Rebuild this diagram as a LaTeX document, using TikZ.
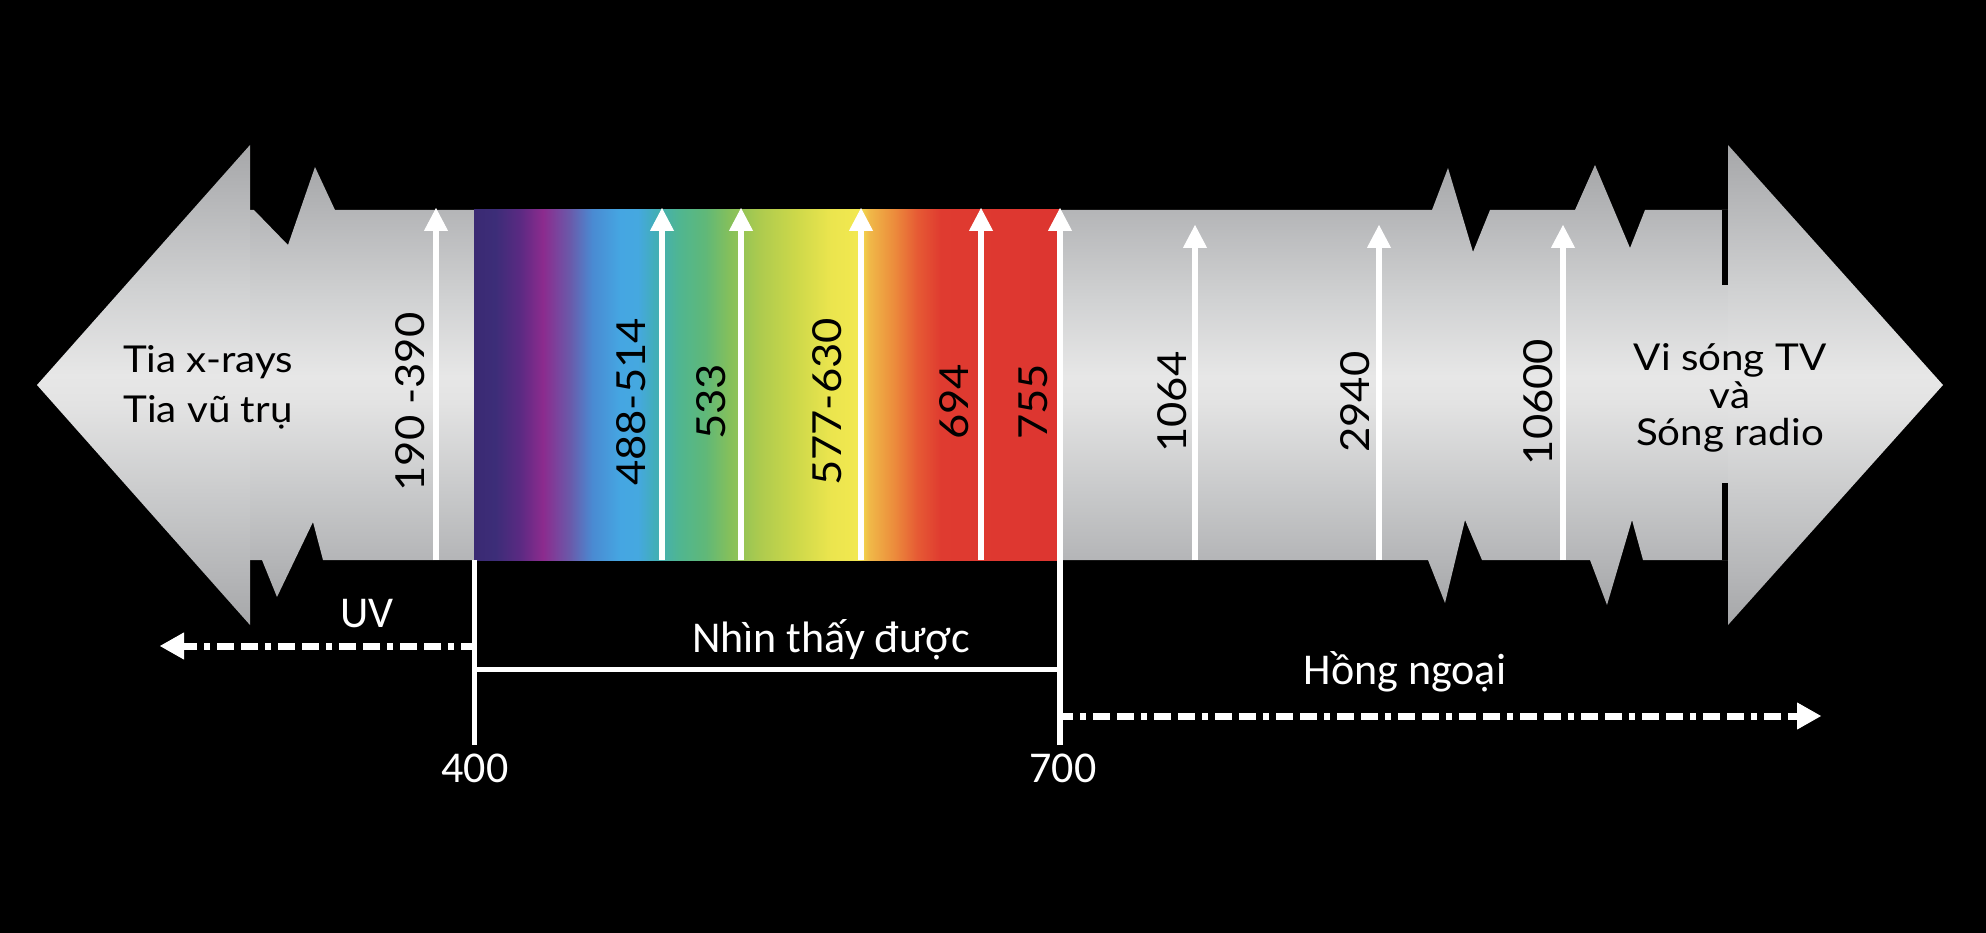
\documentclass[tikz,border=0pt]{standalone}
\usepackage{fontspec}
\usetikzlibrary{arrows.meta}
\newfontfamily\latofont{Lato}[FakeStretch=1.09]
\newfontfamily\carlfont{Carlito}
\definecolor{m0}{HTML}{A6A7A9}
\definecolor{m1}{HTML}{B4B5B7}
\definecolor{m2}{HTML}{CBCCCD}
\definecolor{m3}{HTML}{E3E3E3}
\definecolor{m4}{HTML}{E7E7E7}
\definecolor{m5}{HTML}{D0D1D2}
\pgfdeclareverticalshading{metal}{100bp}{color(0bp)=(m0); color(25bp)=(m0); color(30bp)=(m1); color(39bp)=(m2); color(48bp)=(m3); color(51bp)=(m4); color(60bp)=(m5); color(70bp)=(m1); color(75bp)=(m0); color(100bp)=(m0)}
\definecolor{s0}{HTML}{3B2A73}
\definecolor{s1}{HTML}{3C2D78}
\definecolor{s2}{HTML}{5A2A82}
\definecolor{s3}{HTML}{8C2B8E}
\definecolor{s4}{HTML}{6A5AAA}
\definecolor{s5}{HTML}{4A8AD2}
\definecolor{s6}{HTML}{45A6E2}
\definecolor{s7}{HTML}{45A8E0}
\definecolor{s8}{HTML}{42AEB8}
\definecolor{s9}{HTML}{50B690}
\definecolor{s10}{HTML}{60B878}
\definecolor{s11}{HTML}{86C05A}
\definecolor{s12}{HTML}{AECB4E}
\definecolor{s13}{HTML}{CDD84A}
\definecolor{s14}{HTML}{EBE54E}
\definecolor{s15}{HTML}{F2E850}
\definecolor{s16}{HTML}{F0B848}
\definecolor{s17}{HTML}{EC8C3C}
\definecolor{s18}{HTML}{E65A34}
\definecolor{s19}{HTML}{DF3B30}
\definecolor{s20}{HTML}{DD3530}
\pgfdeclarehorizontalshading{spectrum}{100bp}{color(0bp)=(s0); color(25bp)=(s0); color(26.8bp)=(s1); color(28.9bp)=(s2); color(30.9bp)=(s3); color(33.2bp)=(s4); color(35.1bp)=(s5); color(37.5bp)=(s6); color(39bp)=(s7); color(40.5bp)=(s8); color(42.6bp)=(s9); color(44.8bp)=(s10); color(46.9bp)=(s11); color(49.5bp)=(s12); color(52.5bp)=(s13); color(55.5bp)=(s14); color(57.8bp)=(s15); color(58.8bp)=(s16); color(60.9bp)=(s17); color(62.9bp)=(s18); color(64.9bp)=(s19); color(75bp)=(s20); color(100bp)=(s20)}
\tikzset{
  warrow/.style={draw=white, line width=6pt, -{Triangle[length=23pt,width=24pt,line width=1pt]}},
  dasharrow/.style={draw=white, line width=7pt, dash pattern=on 17pt off 7pt on 6pt off 7pt on 17pt off 7pt, dash phase=4pt, -{Triangle[length=24pt,width=27pt,line width=1pt]}},
  bline/.style={draw=white, line width=5pt},
  gapline/.style={draw=black, line width=6pt},
  vlabel/.style={rotate=90, inner sep=0pt, text=black, font=\latofont\fontsize{40}{48}\selectfont},
  toptext/.style={inner sep=0pt, anchor=base, text=black, font=\latofont\fontsize{37}{40}\selectfont},
  bottext/.style={inner sep=0pt, anchor=base, text=white, font=\carlfont\fontsize{44}{50}\selectfont}
}
\begin{document}
\begin{tikzpicture}[x=1pt, y=-1pt]
\useasboundingbox (0,0) rectangle (1986,933);
\fill[black] (0,0) rectangle (1986,933);
% band with zigzag breaks
\shade[shading=metal] (250,210) -- (254,210) -- (288,245) -- (315,167) -- (335,210) -- (1432,210) -- (1448,168) -- (1473,252) -- (1490,210) -- (1575,210) -- (1595,165) -- (1630,248) -- (1645,210) -- (1732,210) -- (1732,560) -- (1643,560) -- (1632,520) -- (1607,605) -- (1590,560) -- (1482,560) -- (1465,520) -- (1445,603) -- (1428,560) -- (323,560) -- (313,522) -- (277,597) -- (262,560) -- (250,560) -- cycle;
% arrowheads
\shade[shading=metal] (37,385) -- (250,145) -- (250,625) -- cycle;
\shade[shading=metal] (1728,145) -- (1943,385) -- (1728,625) -- cycle;
\draw[gapline] (1725,210) -- (1725,285);
\draw[gapline] (1725,483) -- (1725,560);
% visible spectrum
\coordinate (spA) at (474,210);
\coordinate (spB) at (1059,560);
\shade[shading=spectrum] (spA) rectangle (spB);
% wavelength arrows
\coordinate (a1b) at (436,560); \coordinate (a1t) at (436,208);
\coordinate (a2b) at (662,560); \coordinate (a2t) at (662,208);
\coordinate (a3b) at (741,560); \coordinate (a3t) at (741,208);
\coordinate (a4b) at (861,560); \coordinate (a4t) at (861,208);
\coordinate (a5b) at (981,560); \coordinate (a5t) at (981,208);
\coordinate (a6b) at (1060,745); \coordinate (a6t) at (1060,208);
\coordinate (a7b) at (1195,560); \coordinate (a7t) at (1195,225);
\coordinate (a8b) at (1379,560); \coordinate (a8t) at (1379,225);
\coordinate (a9b) at (1563,560); \coordinate (a9t) at (1563,225);
\foreach \i in {1,...,9} { \draw[warrow] (a\i b) -- (a\i t); }
% bracket
\coordinate (v400t) at (474,560); \coordinate (v400b) at (474,745);
\coordinate (hL) at (474,669); \coordinate (hR) at (1060,669);
\draw[bline] (v400t) -- (v400b);
\draw[bline] (hL) -- (hR);
% dashed region arrows
\coordinate (uvS) at (474,646); \coordinate (uvE) at (160,646);
\coordinate (irS) at (1060,716); \coordinate (irE) at (1821,716);
\draw[dasharrow] (uvS) -- (uvE);
\draw[dasharrow] (irS) -- (irE);
% rotated labels
\node[vlabel] (t1) at (410,402) {190 -390};
\node[vlabel] (t2) at (631,402) {488-514};
\node[vlabel] (t3) at (711,402) {533};
\node[vlabel] (t4) at (827,402) {577-630};
\node[vlabel] (t5) at (954,402) {694};
\node[vlabel] (t6) at (1033,402) {755};
\node[vlabel] (t7) at (1172,402) {1064};
\node[vlabel] (t8) at (1355,402) {2940};
\node[vlabel] (t9) at (1538,402) {10600};
% end texts
\node[toptext] (xr1) at (208,372) {Tia x-rays};
\node[toptext] (xr2) at (208,422) {Tia vũ trụ};
\node[toptext] (rd1) at (1730,370) {Vi sóng TV};
\node[toptext] (rd2) at (1730,408) {và};
\node[toptext] (rd3) at (1730,445) {Sóng radio};
% bottom texts
\node[bottext] (uv) at (367,627) {UV};
\node[bottext] (vis) at (831,652) {Nhìn thấy được};
\node[bottext] (ir) at (1405,684) {Hồng ngoại};
\node[bottext] (n400) at (475,782) {400};
\node[bottext] (n700) at (1063,782) {700};
\end{tikzpicture}
\end{document}
